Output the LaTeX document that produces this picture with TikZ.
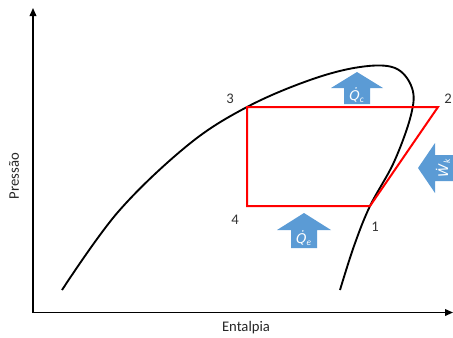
\documentclass[tikz,border=0pt]{standalone}
\usepackage{fontspec}
\setmainfont{Carlito}
\newfontfamily\dejavu{DejaVu Sans}
\usetikzlibrary{arrows.meta}
\definecolor{officeblue}{HTML}{5B9BD5}
\definecolor{lblgray}{HTML}{333333}
\newcommand{\qlab}[2]{{\dejavu\itshape #1\char"0307}\textsubscript{\textit{#2}}}
\begin{document}
\begin{tikzpicture}[x=0.75pt,y=-0.75pt,
  axis/.style={line width=1.1pt,-{Triangle[length=6pt,width=5pt]}},
  dome/.style={line width=1.4pt,black},
  cycle/.style={line width=1.5pt,red},
  blockarrow/.style={fill=officeblue,draw=none},
  lbl/.style={font=\fontsize{11}{13}\selectfont,text=lblgray,inner sep=0pt},
  intext/.style={text=white,font=\fontsize{10}{12}\selectfont,inner sep=0pt}]
\useasboundingbox (0,0) rectangle (453,337);
% axes
\coordinate (o) at (33,312.5);
\coordinate (ytip) at (33,8);
\coordinate (xtip) at (453,312.5);
\draw[axis] (o) -- (ytip);
\draw[axis] (o) -- (xtip);
\node[lbl,rotate=90,text=black!85] (ylab) at (14,176) {Pressão};
\node[lbl,text=black!85] (xlab) at (246,328) {Entalpia};
% dome
\draw[dome] plot[smooth,tension=0.6] coordinates {(62,290) (118,212) (188,145) (247,107) (310,80) (360,67) (395,68) (412,88) (411,115) (394,162) (370,206) (354,246) (340,290)};
% cycle
\coordinate (p3) at (247,107);
\coordinate (p2) at (438,107);
\coordinate (p1) at (370,206);
\coordinate (p4) at (247,206);
\draw[cycle,line join=miter] (p4) -- (p3) -- (p2) -- (p1) -- cycle;
\node[lbl] (l3) at (230,99) {3};
\node[lbl] (l2) at (448,99) {2};
\node[lbl] (l4) at (235,220) {4};
\node[lbl] (l1) at (375,227) {1};
% Qc arrow
\fill[blockarrow] (344,104) -- (344,88) -- (331,88) -- (357,72) -- (383,88) -- (370,88) -- (370,104) -- cycle;
\node[intext] (qc) at (357,95) {\qlab{Q}{c}};
% Qe arrow
\fill[blockarrow] (291,248) -- (291,230) -- (277,230) -- (304,213) -- (331,230) -- (317,230) -- (317,248) -- cycle;
\node[intext] (qe) at (304,238) {\qlab{Q}{e}};
% Wk arrow
\fill[blockarrow] (453,155) -- (435,155) -- (435,143) -- (418,168) -- (435,193) -- (435,181) -- (453,181) -- cycle;
\node[intext,rotate=90] (wk) at (443,168) {\qlab{W}{k}};
\end{tikzpicture}
\end{document}
